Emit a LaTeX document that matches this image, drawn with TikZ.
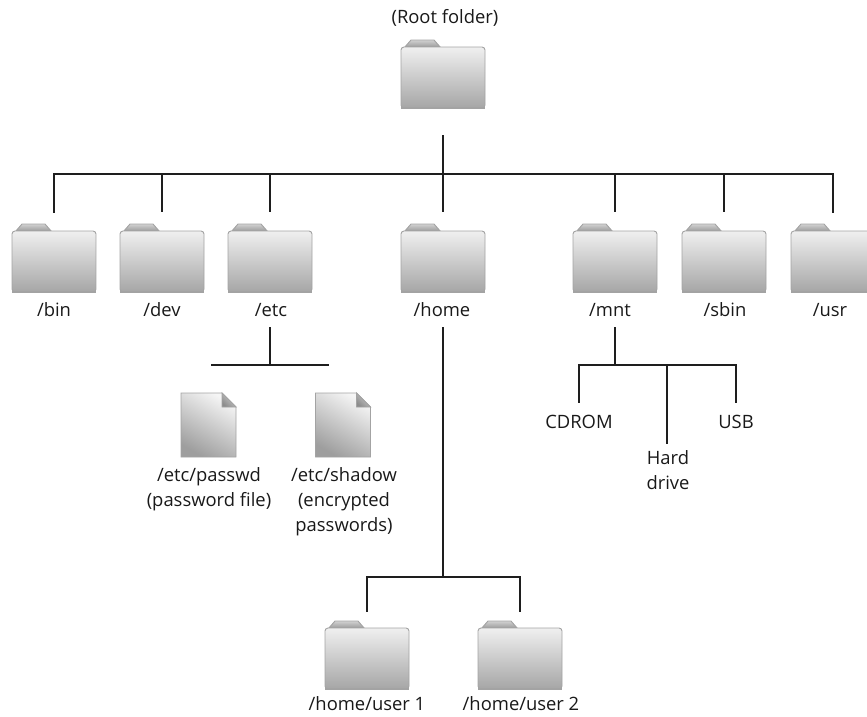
\documentclass[tikz,border=0pt]{standalone}
\usepackage{fontspec}
\setmainfont{Open Sans}
\definecolor{edgegray}{HTML}{A3A3A3}
\definecolor{foldgray}{HTML}{B4B4B4}
\definecolor{wirecol}{HTML}{1E1E1E}
\tikzset{
  wire/.style={draw=wirecol,line width=1.2pt},
  lbl/.style={font=\fontsize{18.4}{25}\selectfont,text=black!90,inner sep=0pt,align=center},
  folderbox/.style={minimum width=84pt,minimum height=68pt,inner sep=0pt,outer sep=0pt},
  filebox/.style={minimum width=55pt,minimum height=64pt,inner sep=0pt,outer sep=0pt},
  edgeline/.style={draw=edgegray,line width=0.9pt},
  pics/folderpic/.style={code={
    \path[edgeline,top color=black!18,bottom color=black!42] (3,8) -- (10,0) -- (33,0) -- (40,8) -- cycle;
    \path[edgeline,top color=white!94!black,bottom color=black!35,rounded corners=3pt]
      (0,68) -- (0,7) -- (84,7) -- (84,68) -- cycle;
    \draw[edgegray,line width=1.1pt] (0,68) -- (84,68);
  }},
  pics/filepic/.style={code={
    \path[edgeline,top color=white!96!black,bottom color=black!38,shading angle=-30]
      (0,0) -- (41,0) -- (55,14) -- (55,64) -- (0,64) -- cycle;
    \path[edgeline,top color=black!18,bottom color=black!45,shading angle=-45] (41,0) -- (55,14) -- (41,14) -- cycle;
  }}
}
\begin{document}
\begin{tikzpicture}[x=1pt,y=-1pt]
\useasboundingbox (0,0) rectangle (867,716);
\clip (0,0) rectangle (867,716);
% folders
\foreach \nm/\fx/\fy in {root/401/40,bin/12/224,dev/120/224,etc/228/224,home/401/224,mnt/573/224,sbin/682/224,usr/791/224,userone/325/621,usertwo/478/621}{
  \pic at (\fx,\fy) {folderpic};
  \node[folderbox,anchor=north west] (\nm) at (\fx,\fy) {};
}
% files
\foreach \nm/\fx/\fy in {passwd/181/393,shadow/315.5/393}{
  \pic at (\fx,\fy) {filepic};
  \node[filebox,anchor=north west] (\nm) at (\fx,\fy) {};
}
% labels
\node[lbl] (lroot) at (445,18) {(Root folder)};
\node[lbl] (lbin) at (54,310) {/bin};
\node[lbl] (ldev) at (162,310) {/dev};
\node[lbl] (letc) at (271,310) {/etc};
\node[lbl] (lhome) at (442,310) {/home};
\node[lbl] (lmnt) at (610,310) {/mnt};
\node[lbl] (lsbin) at (725,310) {/sbin};
\node[lbl] (lusr) at (830,310) {/usr};
\node[lbl,anchor=north] (lpasswd) at (209,467) {/etc/passwd\\(password file)};
\node[lbl,anchor=north] (lshadow) at (344,467) {/etc/shadow\\(encrypted\\passwords)};
\node[lbl] (lcd) at (579,422) {CDROM};
\node[lbl,anchor=north] (lhard) at (668,450) {Hard\\drive};
\node[lbl] (lusb) at (736,422) {USB};
\node[lbl] (luone) at (367,704) {/home/user 1};
\node[lbl] (lutwo) at (521,704) {/home/user 2};
% junctions
\coordinate (jroot) at (443,174);
\coordinate (jetc) at (270,365);
\coordinate (jl) at (211,365);
\coordinate (jr) at (329,365);
\coordinate (jmnt) at (615,365);
\coordinate (jhome) at (443,577);
\coordinate (dmnt) at (615,310);
\coordinate (dcd) at (579,403);
\coordinate (dhard) at (667,444);
\coordinate (dusb) at (736,403);
\coordinate (dusr) at (833,224);
\coordinate (setc) at (270,327);
\coordinate (shome) at (443,327);
\coordinate (smnt) at (615,327);
% root tree
\draw[wire,shorten <=27pt] (root.south) -- (jroot);
\draw[wire,line cap=rect,shorten >=12pt] (jroot) -| (bin.north);
\draw[wire,shorten >=12pt] (jroot -| dev) -- (dev.north);
\draw[wire,shorten >=12pt] (jroot -| etc) -- (etc.north);
\draw[wire,shorten >=12pt] (jroot) -- (home.north);
\draw[wire,shorten >=12pt] (jroot -| dmnt) -- (dmnt |- mnt.north);
\draw[wire,shorten >=12pt] (jroot -| sbin) -- (sbin.north);
\draw[wire,line cap=rect,shorten >=12pt] (jroot) -| (dusr);
% etc
\draw[wire] (jl) -- (jr);
\draw[wire] (setc) -- (jetc);
% home
\draw[wire] (shome) -- (jhome);
\draw[wire,line cap=rect,shorten >=10pt] (jhome) -| (userone.north);
\draw[wire,line cap=rect,shorten >=10pt] (jhome) -| (usertwo.north);
% mnt
\draw[wire] (smnt) -- (jmnt);
\draw[wire] (jmnt) -| (dcd);
\draw[wire] (jmnt -| dhard) -- (dhard);
\draw[wire] (jmnt) -| (dusb);
\end{tikzpicture}
\end{document}
